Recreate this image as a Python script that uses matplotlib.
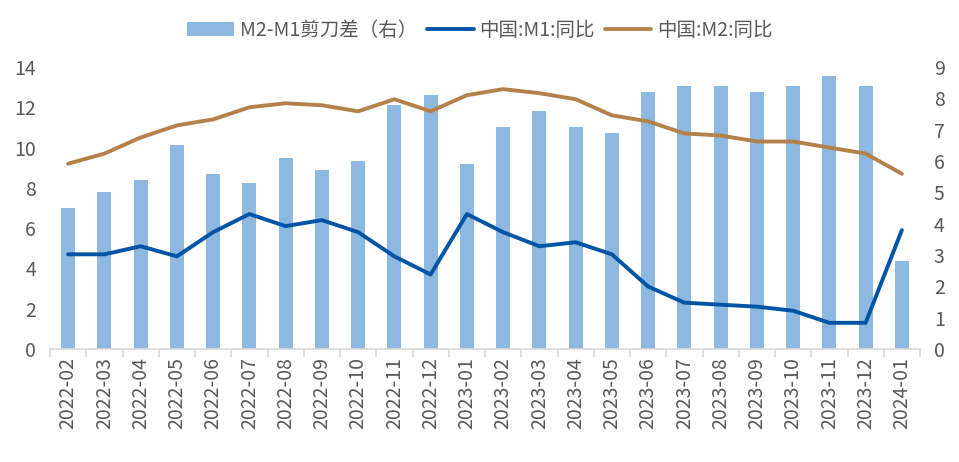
import numpy as np
import matplotlib.pyplot as plt
from matplotlib.ticker import MultipleLocator, FixedLocator

plt.rcParams['font.family'] = ['Noto Sans CJK SC', 'DejaVu Sans']

months = ["2022-02", "2022-03", "2022-04", "2022-05", "2022-06", "2022-07",
          "2022-08", "2022-09", "2022-10", "2022-11", "2022-12", "2023-01",
          "2023-02", "2023-03", "2023-04", "2023-05", "2023-06", "2023-07",
          "2023-08", "2023-09", "2023-10", "2023-11", "2023-12", "2024-01"]
m1 = [4.7, 4.7, 5.1, 4.6, 5.8, 6.7, 6.1, 6.4, 5.8, 4.6, 3.7, 6.7,
      5.8, 5.1, 5.3, 4.7, 3.1, 2.3, 2.2, 2.1, 1.9, 1.3, 1.3, 5.9]
m2 = [9.2, 9.7, 10.5, 11.1, 11.4, 12.0, 12.2, 12.1, 11.8, 12.4, 11.8, 12.6,
      12.9, 12.7, 12.4, 11.6, 11.3, 10.7, 10.6, 10.3, 10.3, 10.0, 9.7, 8.7]
spread = [4.5, 5.0, 5.4, 6.5, 5.6, 5.3, 6.1, 5.7, 6.0, 7.8, 8.1, 5.9,
          7.1, 7.6, 7.1, 6.9, 8.2, 8.4, 8.4, 8.2, 8.4, 8.7, 8.4, 2.8]

x = np.arange(len(months))
tick_color = "#595959"

fig = plt.figure(figsize=(9.59, 4.62), dpi=100)
ax = fig.add_axes([50 / 959, (462 - 349) / 462, 870 / 959, 282 / 462])
ax2 = ax.twinx()

# bars on the right axis, behind the lines
ax2.bar(x, spread, width=0.39, color="#8DB8DF", label="M2-M1剪刀差（右）", zorder=1)
ax.set_zorder(ax2.get_zorder() + 1)
ax.patch.set_visible(False)

ax.plot(x, m1, color="#0054A6", lw=2.8, label="中国:M1:同比", solid_capstyle="round")
ax.plot(x, m2, color="#B5814A", lw=2.8, label="中国:M2:同比", solid_capstyle="round")

ax.set_xlim(-0.5, len(months) - 0.5)
ax.set_ylim(0, 14)
ax2.set_ylim(0, 9)
ax.yaxis.set_major_locator(MultipleLocator(2))
ax2.yaxis.set_major_locator(MultipleLocator(1))

ax.set_xticks(x)
ax.set_xticklabels(months, rotation=90)
ax.xaxis.set_minor_locator(FixedLocator(np.arange(-0.5, len(months), 1)))
ax.tick_params(axis="x", which="major", length=0, pad=6, labelsize=14, labelcolor=tick_color)
ax.tick_params(axis="x", which="minor", length=6, width=1.2, color="#D9D9D9")
ax.tick_params(axis="y", length=0, labelsize=14, labelcolor=tick_color, pad=10)
ax2.tick_params(axis="y", length=0, labelsize=14, labelcolor=tick_color, pad=10)

for a in (ax, ax2):
    for s in ["top", "left", "right", "bottom"]:
        a.spines[s].set_visible(False)
ax.spines["bottom"].set_visible(True)
ax.spines["bottom"].set_color("#D9D9D9")
ax.spines["bottom"].set_linewidth(1.2)

h1, l1 = ax2.get_legend_handles_labels()
h2, l2 = ax.get_legend_handles_labels()
fig.legend(h1 + h2, l1 + l2, loc="center", bbox_to_anchor=(480 / 959, 1 - 30 / 462),
           ncol=3, frameon=False, fontsize=14, labelcolor=tick_color,
           handlelength=2.4, handletextpad=0.3, columnspacing=0.5)

fig.savefig("out.png", dpi=100)
